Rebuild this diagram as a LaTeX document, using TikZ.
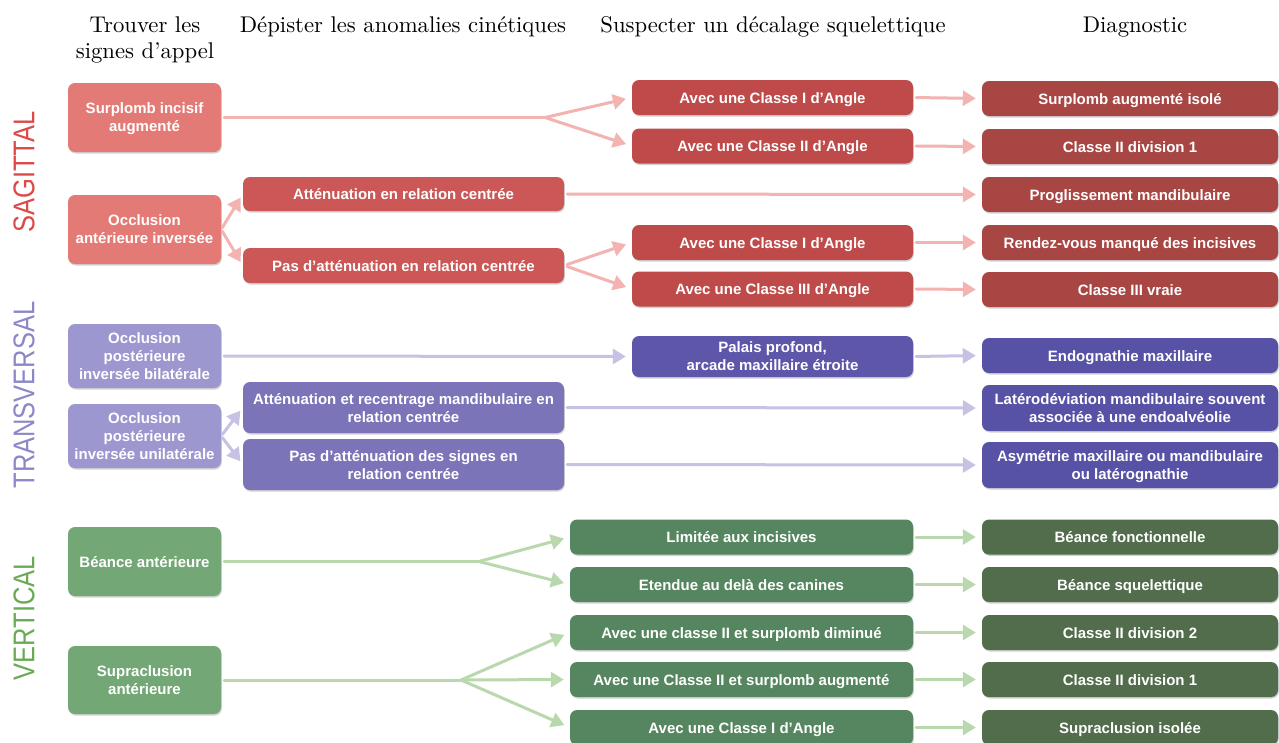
\documentclass[tikz,border=0pt]{standalone}
\usepackage{fontspec}
\usepackage{graphicx}
\newfontfamily\boxfont{Liberation Sans}
\newfontfamily\hdrfont{lmroman10-regular.otf}
\usetikzlibrary{arrows.meta,shadows}
\definecolor{ra}{HTML}{E47A75}
\definecolor{rb}{HTML}{CB5856}
\definecolor{rc}{HTML}{BE4B4A}
\definecolor{rd}{HTML}{A84644}
\definecolor{pa}{HTML}{9C97CF}
\definecolor{pb}{HTML}{7C74B8}
\definecolor{pc}{HTML}{5E56A9}
\definecolor{pd}{HTML}{5752A6}
\definecolor{ga}{HTML}{74A776}
\definecolor{gc}{HTML}{568660}
\definecolor{gd}{HTML}{516D4C}
\definecolor{rarr}{HTML}{F2B3B1}
\definecolor{parr}{HTML}{C6C2E4}
\definecolor{garr}{HTML}{BAD8AD}
\definecolor{rlab}{HTML}{DC4A47}
\definecolor{plab}{HTML}{8C88C8}
\definecolor{glab}{HTML}{6BAA55}
\newcommand{\boxstrut}{\rule[-3.2pt]{0pt}{18pt}}
\newcommand{\boxstrutend}{\rule[-3.2pt]{0pt}{16.8pt}}
\tikzset{
  box/.style={rounded corners=7pt, text=white, align=center, inner sep=0pt,
    font=\boxfont\bfseries\fontsize{15}{18}\selectfont,
    execute at begin node=\boxstrut, execute at end node=\boxstrutend,
    drop shadow={shadow xshift=0.8pt, shadow yshift=-1.5pt, opacity=0.25, fill=black!70}},
  ml/.style={text depth=-2pt},
  cA/.style={box, minimum width=153pt},
  cB/.style={box, minimum width=321pt},
  cC/.style={box, minimum width=281pt, minimum height=35pt},
  cCg/.style={box, minimum width=343pt, minimum height=35pt},
  cD/.style={box, minimum width=296pt, minimum height=35pt},
  hdr/.style={font=\hdrfont\fontsize{22.7}{26}\selectfont, align=center},
  side/.style={rotate=90, font=\boxfont\fontsize{30}{30}\selectfont},
  ln/.style={line width=3pt, line cap=round},
  arr/.style={ln, -{Triangle[length=13pt,width=15pt]}, shorten >=6pt},
  rl/.style={draw=rarr, color=rarr},
  pl/.style={draw=parr, color=parr},
  gl/.style={draw=garr, color=garr},
}
\begin{document}
\begin{tikzpicture}[x=1pt,y=-1pt]
\fill[white] (0,0) rectangle (1279,742);
\useasboundingbox (0,0) rectangle (1279,742);

% headers
\node[hdr] (h1) at (145,40) {Trouver les\\signes d’appel};
\node[hdr] (h2) at (403,27) {Dépister les anomalies cinétiques};
\node[hdr] (h3) at (773,27) {Suspecter un décalage squelettique};
\node[hdr] (h4) at (1135,27) {Diagnostic};

% side labels
\node[side, text=rlab] (lsag) at (24,172) {\scalebox{0.85}[1]{SAGITTAL}};
\node[side, text=plab] (ltra) at (24,395) {\scalebox{0.85}[1]{TRANSVERSAL}};
\node[side, text=glab] (lver) at (24,618) {\scalebox{0.85}[1]{VERTICAL}};

% sagittal
\node[cA, ml, fill=ra, minimum height=69pt] (surp) at (144.5,117.5) {Surplomb incisif\\augmenté};
\node[cA, ml, fill=ra, minimum height=69pt] (occa) at (144.5,229.5) {Occlusion\\antérieure inversée};
\node[cB, fill=rb, minimum height=34pt] (att) at (403.5,194) {Atténuation en relation centrée};
\node[cB, fill=rb, minimum height=35pt] (pasatt) at (403.5,265.5) {Pas d’atténuation en relation centrée};
\node[cC, fill=rc] (sA) at (772.5,97.5) {Avec une Classe I d’Angle};
\node[cC, fill=rc] (sB) at (772.5,146) {Avec une Classe II d’Angle};
\node[cC, fill=rc] (sC) at (772.5,242.5) {Avec une Classe I d’Angle};
\node[cC, fill=rc] (sD) at (772.5,289) {Avec une Classe III d’Angle};
\node[cD, fill=rd] (dA) at (1130,98.5) {Surplomb augmenté isolé};
\node[cD, fill=rd] (dB) at (1130,146.5) {Classe II division 1};
\node[cD, fill=rd] (dC) at (1130,194.5) {Proglissement mandibulaire};
\node[cD, fill=rd] (dD) at (1130,242.5) {Rendez-vous manqué des incisives};
\node[cD, fill=rd] (dE) at (1130,289.5) {Classe III vraie};

% transversal
\node[cA, ml, fill=pa, minimum height=64pt] (bil) at (144.5,356) {Occlusion\\postérieure\\inversée bilatérale};
\node[cA, ml, fill=pa, minimum height=64pt] (uni) at (144.5,436) {Occlusion\\postérieure\\inversée unilatérale};
\node[cB, ml, fill=pb, minimum height=51pt] (tA) at (403.5,407.5) {Atténuation et recentrage mandibulaire en\\relation centrée};
\node[cB, ml, fill=pb, minimum height=51pt] (tB) at (403.5,464.5) {Pas d’atténuation des signes en\\relation centrée};
\node[cC, ml, fill=pc, minimum height=41pt] (pal) at (772.5,356.5) {Palais profond,\\arcade maxillaire étroite};
\node[cD, fill=pd] (eA) at (1130,355.5) {Endognathie maxillaire};
\node[cD, ml, fill=pd, minimum height=46pt] (eB) at (1130,408) {Latérodéviation mandibulaire souvent\\associée à une endoalvéolie};
\node[cD, ml, fill=pd, minimum height=46pt] (eC) at (1130,465) {Asymétrie maxillaire ou mandibulaire\\ou latérognathie};

% vertical
\node[cA, fill=ga, minimum height=69pt] (bea) at (144.5,561.5) {Béance antérieure};
\node[cA, ml, fill=ga, minimum height=68pt] (sup) at (144.5,680) {Supraclusion\\antérieure};
\node[cCg, fill=gc] (vA) at (741.5,537) {Limitée aux incisives};
\node[cCg, fill=gc] (vB) at (741.5,584.5) {Etendue au delà des canines};
\node[cCg, fill=gc] (vC) at (741.5,632.5) {Avec une classe II et surplomb diminué};
\node[cCg, fill=gc] (vD) at (741.5,679.5) {Avec une Classe II et surplomb augmenté};
\node[cCg, fill=gc] (vE) at (741.5,727.5) {Avec une Classe I d’Angle};
\node[cD, fill=gd] (wA) at (1130,537) {Béance fonctionnelle};
\node[cD, fill=gd] (wB) at (1130,584.5) {Béance squelettique};
\node[cD, fill=gd] (wC) at (1130,632.5) {Classe II division 2};
\node[cD, fill=gd] (wD) at (1130,679.5) {Classe II division 1};
\node[cD, fill=gd] (wE) at (1130,727.5) {Supraclusion isolée};

% fork points
\coordinate (f1) at (545,117.5);
\coordinate (f2) at (479,561.5);
\coordinate (f3) at (461,680);

% sagittal arrows
\draw[ln, rl, shorten <=3pt] (surp.east) -- (f1);
\draw[arr, rl] (f1) -- (sA.west);
\draw[arr, rl] (f1) -- (sB.west);
\draw[arr, rl, shorten <=2pt, shorten >=4pt] (occa.east) -- (att.west);
\draw[arr, rl, shorten <=2pt, shorten >=4pt] (occa.east) -- (pasatt.west);
\draw[arr, rl, shorten <=3pt] (att.east) -- (dC.west);
\draw[arr, rl, shorten <=3pt] (pasatt.east) -- (sC.west);
\draw[arr, rl, shorten <=3pt] (pasatt.east) -- (sD.west);
\draw[arr, rl, shorten <=3pt] (sA.east) -- (dA.west);
\draw[arr, rl, shorten <=3pt] (sB.east) -- (dB.west);
\draw[arr, rl, shorten <=3pt] (sC.east) -- (dD.west);
\draw[arr, rl, shorten <=3pt] (sD.east) -- (dE.west);

% transversal arrows
\draw[arr, pl, shorten <=3pt] (bil.east) -- (pal.west);
\draw[arr, pl, shorten <=3pt] (pal.east) -- (eA.west);
\draw[arr, pl, shorten <=2pt, shorten >=4pt] (uni.east) -- (tA.west);
\draw[arr, pl, shorten <=2pt, shorten >=4pt] (uni.east) -- (tB.west);
\draw[arr, pl, shorten <=3pt] (tA.east) -- (eB.west);
\draw[arr, pl, shorten <=3pt] (tB.east) -- (eC.west);

% vertical arrows
\draw[ln, gl, shorten <=3pt] (bea.east) -- (f2);
\draw[arr, gl] (f2) -- (vA.west);
\draw[arr, gl] (f2) -- (vB.west);
\draw[ln, gl, shorten <=3pt] (sup.east) -- (f3);
\draw[arr, gl] (f3) -- (vC.west);
\draw[arr, gl] (f3) -- (vD.west);
\draw[arr, gl] (f3) -- (vE.west);
\draw[arr, gl, shorten <=3pt] (vA.east) -- (wA.west);
\draw[arr, gl, shorten <=3pt] (vB.east) -- (wB.west);
\draw[arr, gl, shorten <=3pt] (vC.east) -- (wC.west);
\draw[arr, gl, shorten <=3pt] (vD.east) -- (wD.west);
\draw[arr, gl, shorten <=3pt] (vE.east) -- (wE.west);
\end{tikzpicture}
\end{document}
